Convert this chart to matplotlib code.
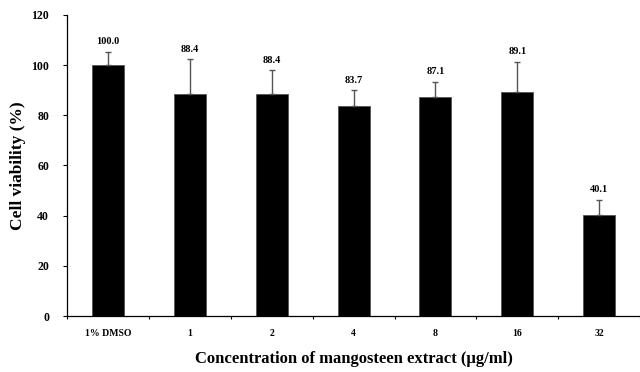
import matplotlib
matplotlib.use("Agg")
import matplotlib.pyplot as plt
import numpy as np

categories = ["1% DMSO", "1", "2", "4", "8", "16", "32"]
viability = [100.0, 88.4, 88.4, 83.7, 87.1, 89.1, 40.1]
err_upper = [5.3, 13.9, 9.6, 6.2, 6.2, 12.2, 6.3]

plt.rcParams["font.family"] = ["Liberation Serif", "DejaVu Serif"]
plt.rcParams["font.weight"] = "bold"

fig = plt.figure(figsize=(6.4, 3.72), dpi=100)
ax = fig.add_axes([0.105, 0.1505, 0.895, 0.8095])

x = np.arange(len(categories))
ax.bar(x, viability, width=0.39, color="black", edgecolor="#555555", lw=0.6)
ax.errorbar(x, viability, yerr=[np.zeros(len(x)), err_upper], fmt="none",
            ecolor="#555555", elinewidth=1.0, capsize=2.2, capthick=1.0)
for xi, v, e in zip(x, viability, err_upper):
    ax.text(xi, v + e + 2.2, f"{v:.1f}", ha="center", va="bottom",
            fontsize=7.5, fontweight="bold")

ax.set_xlim(-0.5, 6.5)
ax.set_ylim(0, 120)
ax.set_yticks(np.arange(0, 121, 20))
ax.tick_params(axis="y", length=3, width=0.8, pad=10, labelsize=8.5)
ax.set_xticks(x)
ax.set_xticklabels(categories)
ax.tick_params(axis="x", which="major", length=0, pad=9, labelsize=7)
ax.set_xticks(np.arange(-0.5, 6.6, 1), minor=True)
ax.tick_params(axis="x", which="minor", length=2.5, width=0.8)
for lab in ax.get_xticklabels() + ax.get_yticklabels():
    lab.set_fontweight("bold")

for s in ["top", "right"]:
    ax.spines[s].set_visible(False)
ax.spines["left"].set_linewidth(0.9)
ax.spines["bottom"].set_linewidth(0.9)

ax.set_ylabel("Cell viability (%)", fontsize=12.5, fontweight="bold", labelpad=4)
ax.set_xlabel("Concentration of mangosteen extract (\u00b5g/ml)", fontsize=12,
              fontweight="bold", labelpad=10)

fig.savefig("out.png", dpi=100)
